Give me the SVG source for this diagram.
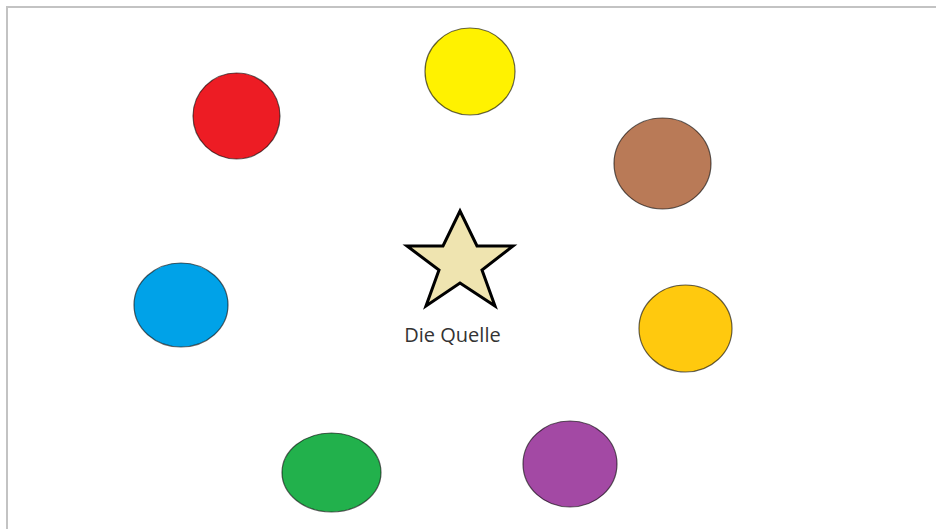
<svg xmlns="http://www.w3.org/2000/svg" width="936" height="529" viewBox="0 0 936 529">
  <style>
    .dot { stroke: #000; stroke-opacity: 0.6; stroke-width: 1.2; }
    .frame { fill: none; stroke: #c3c3c3; stroke-width: 2; }
    .label { font-family: "Open Sans", "Liberation Sans", sans-serif; font-size: 20px; fill: #333; }
  </style>
  <rect width="936" height="529" fill="#fff"/>
  <path class="frame" d="M7,529 V7 H936"/>
  <g id="red"><ellipse class="dot" cx="236.5" cy="116" rx="43.5" ry="43" fill="#ed1c24"/></g>
  <g id="yellow"><ellipse class="dot" cx="470" cy="71.5" rx="45" ry="43.5" fill="#fff200"/></g>
  <g id="brown"><ellipse class="dot" cx="662.5" cy="163.5" rx="48.5" ry="45.5" fill="#b97a57"/></g>
  <g id="blue"><ellipse class="dot" cx="181" cy="305" rx="47" ry="42" fill="#00a2e8"/></g>
  <g id="orange"><ellipse class="dot" cx="685.5" cy="328.5" rx="46.5" ry="43.5" fill="#ffc90e"/></g>
  <g id="green"><ellipse class="dot" cx="331.5" cy="472.5" rx="49.5" ry="39.5" fill="#22b14c"/></g>
  <g id="purple"><ellipse class="dot" cx="570" cy="464" rx="47" ry="43" fill="#a349a4"/></g>
  <g id="source">
    <polygon points="460,211 477,246 513,246 482,270 495,306 460,283 426,306 439,270 407,246 443,246" fill="#efe4b0" stroke="#000" stroke-width="3" stroke-linejoin="miter"/>
    <text class="label" x="452.5" y="342" text-anchor="middle">Die Quelle</text>
  </g>
</svg>
